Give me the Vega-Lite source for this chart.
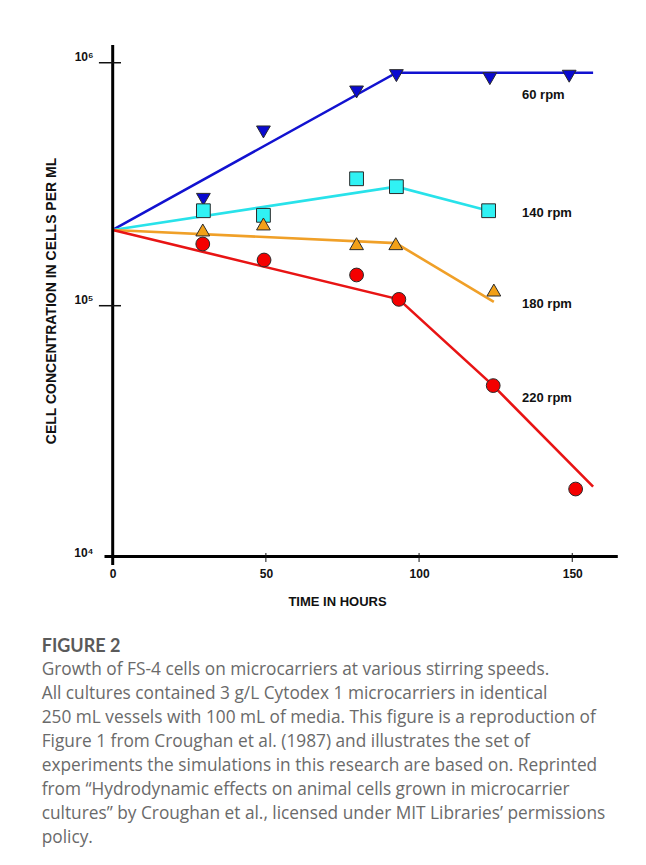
{
  "$schema": "https://vega.github.io/schema/vega-lite/v6.json",
  "autosize": {"type": "none"},
  "width": 513.3,
  "height": 511,
  "padding": {"left": 104, "top": 45, "right": 28.7, "bottom": 309},
  "background": "white",
  "config": {"view": {"stroke": null}},
  "title": {
    "text": "FIGURE 2",
    "subtitle": [
      "Growth of FS-4 cells on microcarriers at various stirring speeds.",
      "All cultures contained 3 g/L Cytodex 1 microcarriers in identical",
      "250 mL vessels with 100 mL of media. This figure is a reproduction of",
      "Figure 1 from Croughan et al. (1987) and illustrates the set of",
      "experiments the simulations in this research are based on. Reprinted",
      "from \u201cHydrodynamic effects on animal cells grown in microcarrier",
      "cultures\u201d by Croughan et al., licensed under MIT Libraries\u2019 permissions",
      "policy."
    ],
    "orient": "bottom",
    "anchor": "start",
    "frame": "group",
    "dx": -62.3,
    "offset": 29,
    "font": "Lato",
    "fontSize": 18,
    "fontWeight": "bold",
    "color": "#5a5a5a",
    "subtitleFont": "Open Sans",
    "subtitleFontSize": 17.3,
    "subtitleColor": "#6a6a6a",
    "subtitleLineHeight": 24,
    "subtitlePadding": 5
  },
  "datasets": {
    "lines": [
      {"series": "60 rpm", "t": 0, "v": 205000},
      {"series": "60 rpm", "t": 92.6, "v": 910000},
      {"series": "60 rpm", "t": 156.8, "v": 910000},
      {"series": "140 rpm", "t": 0, "v": 205000},
      {"series": "140 rpm", "t": 92.6, "v": 309000},
      {"series": "140 rpm", "t": 122.7, "v": 246000},
      {"series": "180 rpm", "t": 0, "v": 205000},
      {"series": "180 rpm", "t": 92.4, "v": 181000},
      {"series": "180 rpm", "t": 124.4, "v": 103600},
      {"series": "220 rpm", "t": 0, "v": 205000},
      {"series": "220 rpm", "t": 93.4, "v": 106200},
      {"series": "220 rpm", "t": 124.2, "v": 46900},
      {"series": "220 rpm", "t": 156.8, "v": 18000}
    ],
    "points": [
      {"series": "60 rpm", "t": 29.6, "v": 274000},
      {"series": "60 rpm", "t": 49.2, "v": 519000},
      {"series": "60 rpm", "t": 79.6, "v": 758000},
      {"series": "60 rpm", "t": 92.6, "v": 885000},
      {"series": "60 rpm", "t": 123.1, "v": 860000},
      {"series": "60 rpm", "t": 149.0, "v": 880000},
      {"series": "140 rpm", "t": 29.6, "v": 246000},
      {"series": "140 rpm", "t": 49.2, "v": 235500},
      {"series": "140 rpm", "t": 79.6, "v": 333000},
      {"series": "140 rpm", "t": 92.6, "v": 309000},
      {"series": "140 rpm", "t": 122.7, "v": 246000},
      {"series": "180 rpm", "t": 29.4, "v": 205000},
      {"series": "180 rpm", "t": 49.2, "v": 217000},
      {"series": "180 rpm", "t": 79.6, "v": 180000},
      {"series": "180 rpm", "t": 92.4, "v": 180000},
      {"series": "180 rpm", "t": 124.4, "v": 116000},
      {"series": "220 rpm", "t": 29.4, "v": 179500},
      {"series": "220 rpm", "t": 49.4, "v": 154200},
      {"series": "220 rpm", "t": 79.6, "v": 133800},
      {"series": "220 rpm", "t": 93.4, "v": 106200},
      {"series": "220 rpm", "t": 124.2, "v": 46900},
      {"series": "220 rpm", "t": 151.1, "v": 17600}
    ],
    "labels": [
      {"series": "60 rpm", "t": 133.6, "v": 736500},
      {"series": "140 rpm", "t": 133.6, "v": 240600},
      {"series": "180 rpm", "t": 133.6, "v": 101600},
      {"series": "220 rpm", "t": 133.6, "v": 41700}
    ]
  },
  "layer": [
    {
      "data": {"name": "lines"},
      "mark": {"type": "line", "strokeWidth": 2.6},
      "encoding": {
        "x": {
          "field": "t", "type": "quantitative",
          "scale": {"domain": [-2.84, 164.7], "nice": false, "zero": false},
          "axis": {
            "values": [0, 50, 100, 150],
            "title": "TIME IN HOURS",
            "grid": false,
            "domain": true, "domainColor": "#000", "domainWidth": 3,
            "ticks": false, "tickSize": 0,
            "labelPadding": 12, "labelFlush": false,
            "labelFont": "Liberation Sans", "labelFontWeight": "bold", "labelFontSize": 12, "labelColor": "#111",
            "titleFont": "Liberation Sans", "titleFontWeight": "bold", "titleFontSize": 13, "titleColor": "#111",
            "titleX": 233, "titleY": 49.5, "titleBaseline": "alphabetic", "titleAlign": "center"
          }
        },
        "y": {
          "field": "v", "type": "quantitative",
          "scale": {"type": "log", "domain": [9330, 1183000], "nice": false},
          "axis": {
            "values": [10000, 100000, 1000000],
            "labelExpr": "datum.value >= 500000 ? '10\u2076' : datum.value >= 50000 ? '10\u2075' : '10\u2074'",
            "title": "CELL CONCENTRATION IN CELLS PER ML",
            "grid": false, "domain": false, "ticks": false, "tickSize": 0,
            "labelPadding": 11,
            "labelOffset": {"condition": {"test": "datum.value < 20000", "value": 4}, "value": -6},
            "labelFont": "Liberation Sans", "labelFontWeight": "bold", "labelFontSize": 12, "labelColor": "#111",
            "titleFont": "Liberation Sans", "titleFontWeight": "bold", "titleFontSize": 14, "titleColor": "#111",
            "titlePadding": 15
          }
        },
        "color": {
          "field": "series", "type": "nominal",
          "scale": {"domain": ["60 rpm", "140 rpm", "180 rpm", "220 rpm"], "range": ["#1212d0", "#28e2ea", "#f0a028", "#e81414"]},
          "legend": null
        },
        "detail": {"field": "series"}
      }
    },
    {
      "data": {"values": [{}]},
      "mark": {"type": "rule", "color": "#000", "strokeWidth": 3},
      "encoding": {
        "x": {"datum": 0},
        "y": {"datum": 8570},
        "y2": {"datum": 1183000}
      }
    },
    {
      "data": {"values": [{"v": 100000}, {"v": 1000000}]},
      "mark": {"type": "rule", "color": "#111", "strokeWidth": 1.5},
      "encoding": {
        "y": {"field": "v", "type": "quantitative"},
        "x": {"datum": -4.5},
        "x2": {"datum": 2.7}
      }
    },
    {
      "data": {"values": [{"t": 50}, {"t": 100}, {"t": 150}]},
      "mark": {"type": "rule", "color": "#111", "strokeWidth": 1},
      "encoding": {
        "x": {"field": "t", "type": "quantitative"},
        "y": {"datum": 9600},
        "y2": {"datum": 8815}
      }
    },
    {
      "data": {"name": "points"},
      "mark": {"type": "point", "filled": true, "opacity": 1, "size": 190, "stroke": "#2a2a2a", "strokeWidth": 1},
      "encoding": {
        "x": {"field": "t", "type": "quantitative"},
        "y": {"field": "v", "type": "quantitative"},
        "fill": {
          "field": "series", "type": "nominal",
          "scale": {"domain": ["60 rpm", "140 rpm", "180 rpm", "220 rpm"], "range": ["#0a0ad0", "#30f2f4", "#f2a018", "#f40000"]},
          "legend": null
        },
        "shape": {
          "field": "series", "type": "nominal",
          "scale": {"domain": ["60 rpm", "140 rpm", "180 rpm", "220 rpm"], "range": ["triangle-down", "square", "triangle-up", "circle"]},
          "legend": null
        }
      }
    },
    {
      "data": {"name": "labels"},
      "mark": {"type": "text", "align": "left", "baseline": "middle", "font": "Liberation Sans", "fontWeight": "bold", "fontSize": 13, "color": "#111"},
      "encoding": {
        "x": {"field": "t", "type": "quantitative"},
        "y": {"field": "v", "type": "quantitative"},
        "text": {"field": "series"}
      }
    }
  ]
}
